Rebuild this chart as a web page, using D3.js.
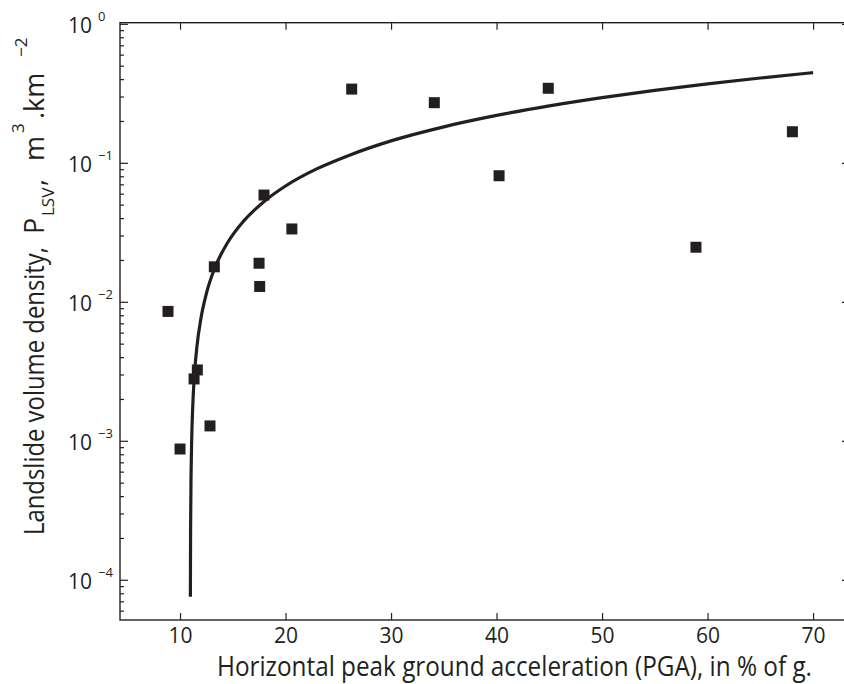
<!DOCTYPE html>
<html><head><meta charset="utf-8">
<script src="https://cdn.jsdelivr.net/npm/d3@7"></script>
<style>body{margin:0;background:#fff}svg{display:block}</style>
</head><body>
<svg id="c" width="844" height="684"></svg>
<script>
// ---- data ----
const pgaValues     = [8.86, 10.0, 11.33, 11.64, 12.84, 13.25, 17.49, 17.55, 17.96, 20.6, 26.27, 34.1, 40.24, 44.9, 58.9, 68.04];
const densityValues = [0.0086, 0.00088, 0.00281, 0.00326, 0.00129, 0.0180, 0.0191, 0.0130, 0.0591, 0.0337, 0.342, 0.273, 0.0814, 0.3465, 0.0249, 0.1687];
const fitPga     = [10.98, 11.0, 11.05, 11.1, 11.2, 11.35, 11.6, 12.0, 12.5, 13.3, 14.5, 16, 18, 20, 23, 26, 30, 35, 40, 45, 50, 55, 60, 65, 70];
const fitDensity = [7.6e-5, 2.3e-4, 6.1e-4, 9.9e-4, 1.75e-3, 2.9e-3, 4.8e-3, 7.8e-3, 0.0116, 0.0177, 0.0268, 0.0382, 0.0534, 0.0687, 0.0915, 0.114, 0.145, 0.183, 0.221, 0.259, 0.297, 0.335, 0.373, 0.411, 0.449];
const xTickValues = [10, 20, 30, 40, 50, 60, 70];
const yTickExponents = [0, -1, -2, -3, -4];
const xTitle = "Horizontal peak ground acceleration (PGA), in % of g.";

const ink = "#231f20";
const font = "'Open Sans', 'Noto Sans', sans-serif";
const svg = d3.select("#c");

const pL = 120, pR = 850, pT = 22.7, pB = 620;
const x = d3.scaleLinear().domain([4.31, 73.5]).range([pL, pR]);
const y = d3.scaleLog().domain([5.18e-5, 1.027]).range([pB, pT]);

// box
svg.append("rect").attr("x", pL).attr("y", pT)
  .attr("width", pR - pL).attr("height", pB - pT)
  .attr("fill", "none").attr("stroke", ink).attr("stroke-width", 1.4);

// x ticks bottom + labels
const xb = svg.append("g").attr("transform", `translate(0,${pB})`)
  .call(d3.axisBottom(x).tickValues(xTickValues).tickSizeInner(-7).tickSizeOuter(0).tickPadding(8).tickFormat(d3.format("d")));
xb.select(".domain").remove();
xb.selectAll("line").attr("stroke", ink).attr("stroke-width", 1.2);
xb.selectAll("text").attr("fill", ink).style("font-family", font).style("font-size", "21px");

// x ticks top
const xt = svg.append("g").attr("transform", `translate(0,${pT})`)
  .call(d3.axisTop(x).tickValues(xTickValues).tickSizeInner(-7).tickSizeOuter(0).tickFormat(""));
xt.select(".domain").remove();
xt.selectAll("line").attr("stroke", ink).attr("stroke-width", 1.2);

// y ticks (major + minor), left and right
const [d0, d1] = y.domain();
const majors = yTickExponents.map(e => Math.pow(10, e));
const minors = [];
for (let e = -5; e <= 0; e++) for (let m = 2; m <= 9; m++) {
  const v = m * Math.pow(10, e);
  if (v >= d0 && v <= d1) minors.push(v);
}
const tickG = svg.append("g").attr("stroke", ink).attr("stroke-width", 1.2);
tickG.selectAll(".maj").data(majors).join("line")
  .attr("x1", pL).attr("x2", pL + 8).attr("y1", d => y(d)).attr("y2", d => y(d));
tickG.selectAll(".min").data(minors).join("line")
  .attr("x1", pL).attr("x2", pL + 4).attr("y1", d => y(d)).attr("y2", d => y(d));
tickG.selectAll(".majr").data(majors).join("line")
  .attr("x1", pR).attr("x2", pR - 8).attr("y1", d => y(d)).attr("y2", d => y(d));

// y labels 10^e
const yl = svg.append("g").attr("fill", ink).style("font-family", font);
yl.selectAll(".b").data(yTickExponents).join("text")
  .attr("x", pL - 28).attr("y", e => y(Math.pow(10, e)) + 8.7)
  .attr("text-anchor", "end").style("font-size", "21px").text("10");
yl.selectAll(".e").data(yTickExponents).join("text")
  .attr("x", pL - 22).attr("y", e => y(Math.pow(10, e)) - 3.5)
  .style("font-size", "13px").text(e => e === 0 ? "0" : "\u2212" + Math.abs(e));

// fit curve
const line = d3.line().x((d, i) => x(fitPga[i])).y((d, i) => y(fitDensity[i])).curve(d3.curveMonotoneX);
svg.append("path").datum(fitPga).attr("d", line)
  .attr("fill", "none").attr("stroke", ink).attr("stroke-width", 3.2).attr("stroke-linejoin", "round");

// data squares
const s = 11;
svg.append("g").selectAll("rect").data(pgaValues).join("rect")
  .attr("x", (d, i) => x(d) - s / 2).attr("y", (d, i) => y(densityValues[i]) - s / 2)
  .attr("width", s).attr("height", s).attr("fill", ink);

// x title
svg.append("text").attr("x", 514.5).attr("y", 675.5).attr("text-anchor", "middle")
  .attr("fill", ink).style("font-family", font).style("font-size", "26.5px")
  .attr("textLength", 595).attr("lengthAdjust", "spacingAndGlyphs").text(xTitle);

// y title (rotated)
const yt = svg.append("text").attr("transform", "rotate(-90)")
  .attr("fill", ink).style("font-family", font);
yt.append("tspan").attr("x", -535).attr("y", 44).style("font-size", "27px")
  .attr("textLength", 288).attr("lengthAdjust", "spacingAndGlyphs").text("Landslide volume density,");
yt.append("tspan").attr("x", -234).attr("y", 44).style("font-size", "27px").text("P");
yt.append("tspan").attr("x", -216).attr("y", 54).style("font-size", "17px").text("LSV");
yt.append("tspan").attr("x", -186).attr("y", 44).style("font-size", "27px").text(",");
yt.append("tspan").attr("x", -161).attr("y", 44).style("font-size", "27px").text("m");
yt.append("tspan").attr("x", -133).attr("y", 24).style("font-size", "17px").text("3");
yt.append("tspan").attr("x", -119).attr("y", 44).style("font-size", "27px").text(".km");
yt.append("tspan").attr("x", -57).attr("y", 27).style("font-size", "17px").text("\u22122");
</script>
</body></html>
